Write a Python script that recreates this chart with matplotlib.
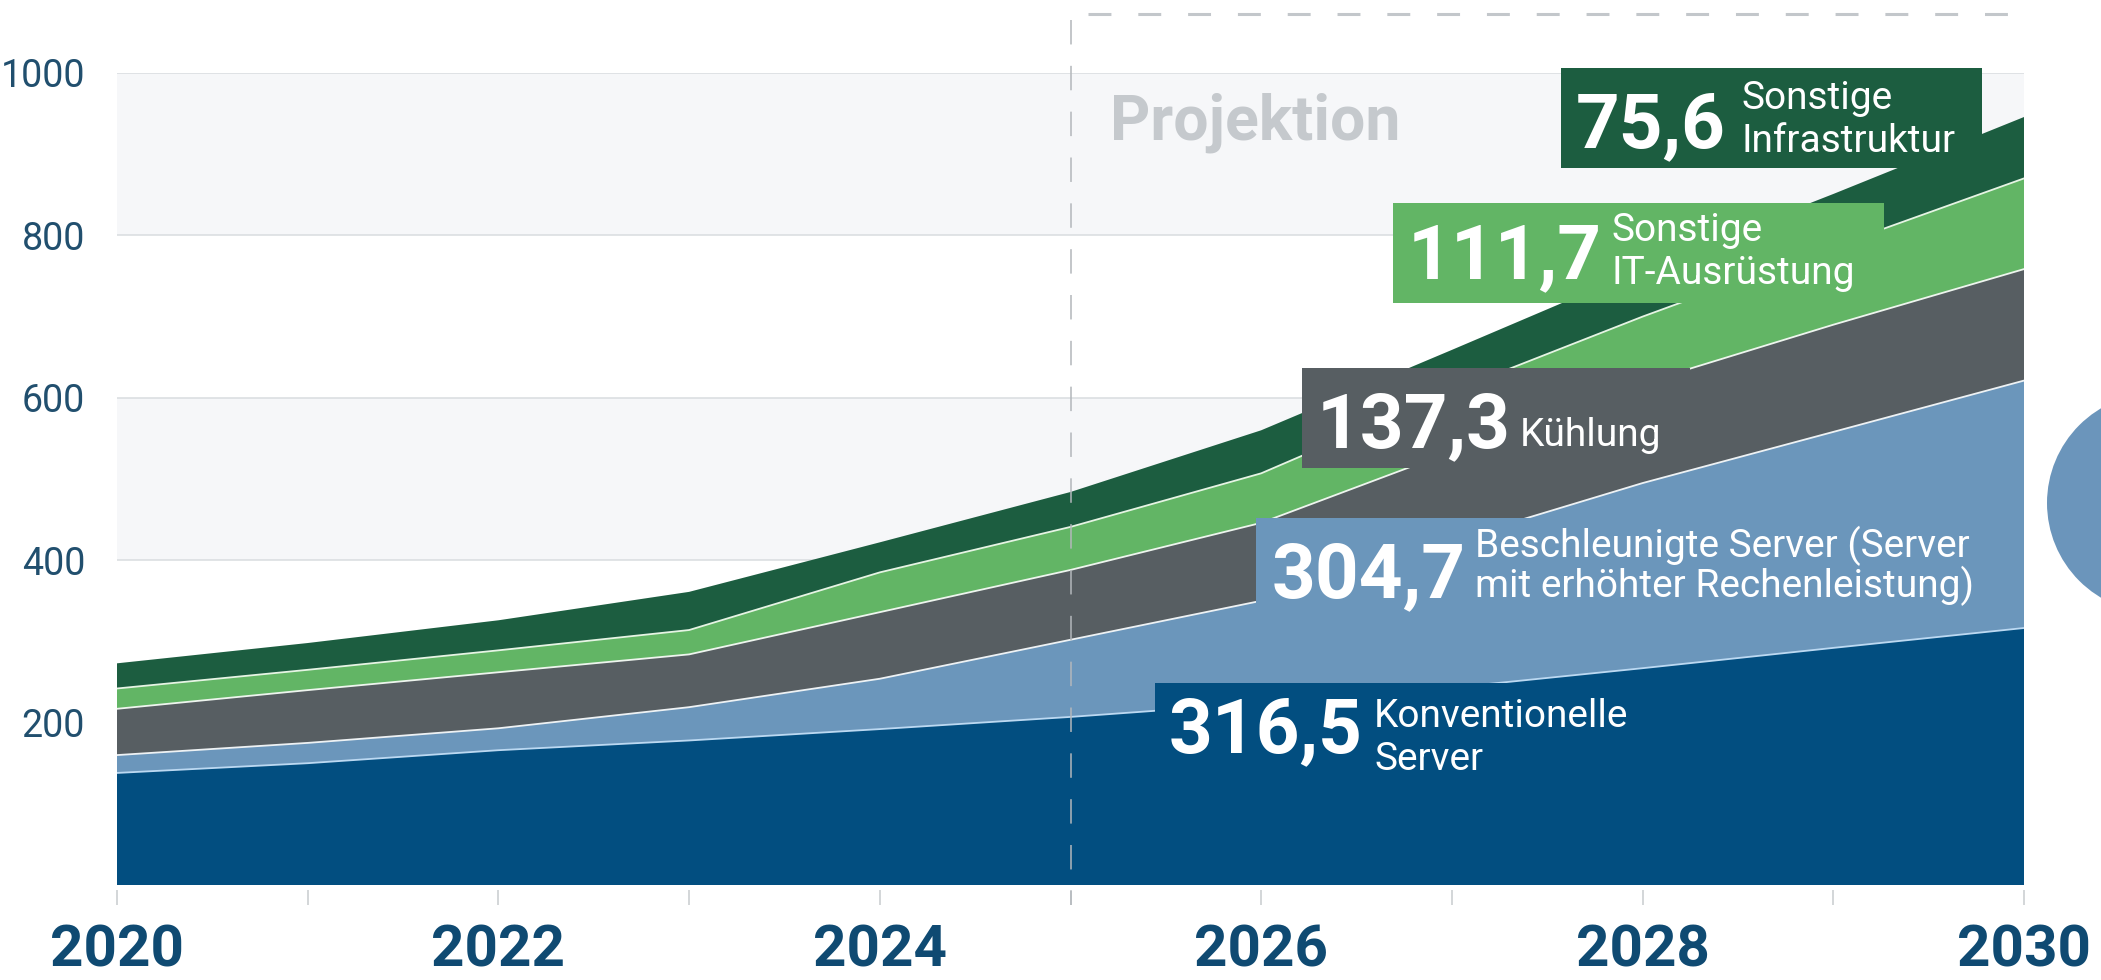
import numpy as np
import matplotlib
matplotlib.use("Agg")
import matplotlib.pyplot as plt
from matplotlib.patches import Rectangle, Ellipse

plt.rcParams['font.family'] = ['Roboto', 'DejaVu Sans']

# ---------------- data ----------------
years = [2020, 2021, 2022, 2023, 2024, 2025, 2026, 2027, 2028, 2029, 2030]
konventionelle = [138, 150, 166, 178, 192, 207, 224, 243, 267, 292, 316.5]
beschleunigte = [22, 25, 27, 41, 62, 95, 126, 181, 228, 266, 304.7]
kuehlung = [57, 65, 69, 65, 82, 86, 96, 110, 123, 132, 137.3]
sonstige_it = [25, 25, 27, 30, 49, 53, 61, 74, 82, 96, 111.7]
sonstige_infra = [31, 33, 37, 47, 37, 43, 53, 51, 59, 65, 75.6]

series_names = ["Konventionelle\nServer",
                "Beschleunigte Server (Server\nmit erhöhter Rechenleistung)",
                "Kühlung",
                "Sonstige\nIT-Ausrüstung",
                "Sonstige\nInfrastruktur"]
colors = ["#024e80", "#6b96bb", "#575e62", "#62b565", "#1c5d40"]
y_ticks = [200, 400, 600, 800, 1000]
projection_start = 2025
projection_label = "Projektion"

# ---------------- figure ----------------
W, H = 2101, 980
fig = plt.figure(figsize=(W / 100, H / 100), dpi=100)
fig.patch.set_facecolor("white")
ax = fig.add_axes([117 / W, (H - 885) / H, (2024 - 117) / W, 812 / H])
ax.set_xlim(2020, 2030)
ax.set_ylim(0, 1000)
ax.set_facecolor("white")

# background bands + grid
for lo, hi in [(0, 200), (400, 600), (800, 1000)]:
    ax.axhspan(lo, hi, color="#f6f7f9", lw=0, zorder=0.2)
for v in y_ticks:
    ax.axhline(v, color="#d9dcdf", lw=1.1, zorder=0.6)

# stacked areas
stack = [konventionelle, beschleunigte, kuehlung, sonstige_it, sonstige_infra]
ax.stackplot(years, *stack, colors=colors, lw=0, zorder=1)
cum = np.cumsum(np.array(stack, dtype=float), axis=0)
line_cols = ["#bcd9f2", "#eef2f4", "#eef5ee", "#e6f4e4"]
for i in range(4):
    ax.plot(years, cum[i], color=line_cols[i], lw=1.3, zorder=2)

# projection markers
ax.plot([projection_start, projection_start], [1065, -25], color="#b3b7bb",
        lw=1.1, ls=(0, (16, 14)), clip_on=False, zorder=3)
ax.plot([projection_start + 0.09, 2030], [1073, 1073], color="#c3c7cb",
        lw=2.2, ls=(0, (7.5, 8.8)), clip_on=False, zorder=3)
ax.text(2025.207, 917.5, projection_label, fontsize=45, fontweight="bold",
        color="#c5c9cd", ha="left", va="baseline", zorder=3)

# label boxes: (x0, x1, y0, y1), number position, label position (last-line baseline), linespacing
boxes = [
    ((2025.443, 2028.30, 100.0, 248.8), (2025.517, 163.8), (2026.592, 141.6), 1.2),
    ((2025.973, 2029.796, 314.0, 452.0), (2026.057, 354.7), (2027.121, 354.7), 1.0),
    ((2026.214, 2028.249, 513.5, 636.7), (2026.293, 539.4), (2027.357, 541.0), 1.0),
    ((2026.691, 2029.266, 716.7, 839.9), (2026.770, 747.5), (2027.839, 740.0), 1.2),
    ((2027.572, 2029.78, 883.0, 1006.2), (2027.651, 908.9), (2028.516, 903.0), 1.2),
]
for i, (bx, npos, lpos, ls) in enumerate(boxes):
    x0, x1, y0, y1 = bx
    ax.add_patch(Rectangle((x0, y0), x1 - x0, y1 - y0, facecolor=colors[i],
                           edgecolor="none", zorder=4, clip_on=False))
    value = stack[i][-1]
    num = f"{value:.1f}".replace(".", ",")
    ax.text(npos[0], npos[1], num, fontsize=55, fontweight="bold", color="white",
            ha="left", va="baseline", zorder=5)
    ax.text(lpos[0], lpos[1], series_names[i], fontsize=28, color="white",
            ha="left", va="baseline", linespacing=ls, zorder=5)

# axes styling
for s in ["left", "right", "top"]:
    ax.spines[s].set_visible(False)
ax.spines["bottom"].set_position(("outward", 3.6))
ax.spines["bottom"].set_visible(False)
ax.set_xticks(years)
ax.set_xticklabels([str(y) if y % 2 == 0 else "" for y in years])
ax.tick_params(axis="x", length=10.8, width=1.1, color="#c8cbce", pad=13.5,
               labelsize=42, labelcolor="#0f4a72")
for lab in ax.get_xticklabels():
    lab.set_fontweight("bold")
ax.set_yticks(y_ticks)
ax.set_yticklabels([str(v) for v in y_ticks])
ax.tick_params(axis="y", length=0, pad=23, labelsize=27, labelcolor="#214f6e")

# partial circle at right edge (next panel)
fig.patches.append(Ellipse((2157 / W, (H - 503) / H), 220 / W, 220 / H,
                           transform=fig.transFigure, facecolor="#6b95bb",
                           edgecolor="none"))

fig.savefig("out.png", dpi=100, facecolor="white")
